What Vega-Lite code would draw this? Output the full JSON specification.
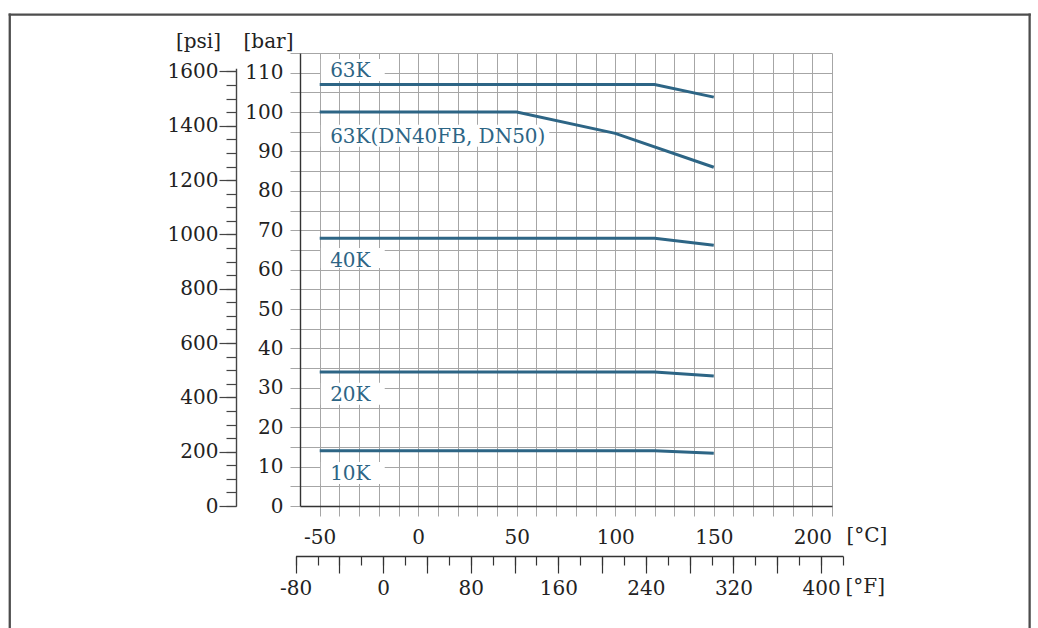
{
  "$schema": "https://vega.github.io/schema/vega-lite/v6.json",
  "autosize": {"type": "none"},
  "padding": {"left": 300, "top": 53, "right": 206, "bottom": 122},
  "width": 532,
  "height": 453,
  "background": "white",
  "config": {"view": {"stroke": null}, "font": "DejaVu Serif"},
  "datasets": {
    "curves": [
      {"series": "63K", "t": -50, "p": 107},
      {"series": "63K", "t": 120, "p": 107},
      {"series": "63K", "t": 150, "p": 103.8},
      {"series": "63K(DN40FB, DN50)", "t": -50, "p": 100},
      {"series": "63K(DN40FB, DN50)", "t": 50, "p": 100},
      {"series": "63K(DN40FB, DN50)", "t": 100, "p": 94.6},
      {"series": "63K(DN40FB, DN50)", "t": 150, "p": 86},
      {"series": "40K", "t": -50, "p": 68},
      {"series": "40K", "t": 120, "p": 68},
      {"series": "40K", "t": 150, "p": 66.2},
      {"series": "20K", "t": -50, "p": 34},
      {"series": "20K", "t": 120, "p": 34},
      {"series": "20K", "t": 150, "p": 33},
      {"series": "10K", "t": -50, "p": 14},
      {"series": "10K", "t": 120, "p": 14},
      {"series": "10K", "t": 150, "p": 13.4}
    ],
    "labels": [
      {"label": "63K", "t": -44.7, "p": 110.4, "t0": -49.4, "t1": -17, "p0": 107.9, "p1": 113.5},
      {"label": "63K(DN40FB, DN50)", "t": -44.7, "p": 93.65, "t0": -49.4, "t1": 66.5, "p0": 91.2, "p1": 96.8},
      {"label": "40K", "t": -44.7, "p": 62.3, "t0": -49.4, "t1": -17, "p0": 60.4, "p1": 65.5},
      {"label": "20K", "t": -44.7, "p": 28.2, "t0": -49.4, "t1": -17, "p0": 25.7, "p1": 31.3},
      {"label": "10K", "t": -44.7, "p": 8.05, "t0": -49.4, "t1": -17, "p0": 5.6, "p1": 11.2}
    ],
    "frame": [
      {"t": -207.3, "t2": -207.3, "p": -31, "p2": 124.75},
      {"t": -207.3, "t2": 310.3, "p": 124.75, "p2": 124.75},
      {"t": 310.3, "t2": 310.3, "p": -31, "p2": 124.75}
    ],
    "psi": [{"psi": 0}, {"psi": 1600}],
    "fahr": [{"f": -80}, {"f": 420}]
  },
  "resolve": {
    "scale": {"x": "independent", "y": "independent"},
    "axis": {"x": "independent", "y": "independent"}
  },
  "layer": [
    {
      "data": {"name": "frame"},
      "mark": {"type": "rule", "stroke": "#4d4d4d", "strokeWidth": 2.3, "strokeCap": "square"},
      "encoding": {
        "x": {"field": "t", "type": "quantitative", "scale": {"domain": [-60, 210], "nice": false, "zero": false}, "axis": null},
        "x2": {"field": "t2"},
        "y": {"field": "p", "type": "quantitative", "scale": {"domain": [0, 115], "nice": false, "zero": false}, "axis": null},
        "y2": {"field": "p2"}
      }
    },
    {
      "data": {"name": "labels"},
      "mark": {"type": "rect", "fill": "white"},
      "encoding": {
        "x": {"field": "t0", "type": "quantitative", "scale": {"domain": [-60, 210], "nice": false, "zero": false}, "axis": null},
        "x2": {"field": "t1"},
        "y": {"field": "p0", "type": "quantitative", "scale": {"domain": [0, 115], "nice": false, "zero": false}, "axis": null},
        "y2": {"field": "p1"}
      }
    },
    {
      "data": {"name": "curves"},
      "mark": {"type": "line", "stroke": "#2d6585", "strokeWidth": 3},
      "encoding": {
        "x": {
          "field": "t", "type": "quantitative",
          "scale": {"domain": [-60, 210], "nice": false, "zero": false},
          "axis": {
            "values": [-50, -40, -30, -20, -10, 0, 10, 20, 30, 40, 50, 60, 70, 80, 90, 100, 110, 120, 130, 140, 150, 160, 170, 180, 190, 200, 210],
            "grid": true, "gridColor": "#a6a6a6", "gridWidth": 1,
            "tickColor": "#a6a6a6", "tickSize": 10, "tickWidth": 1,
            "domainColor": "#333333", "domainWidth": 1.4,
            "labelExpr": "datum.value % 50 === 0 ? '' + datum.value : ''",
            "labelFont": "DejaVu Serif", "labelFontSize": 20, "labelColor": "#222222",
            "labelPadding": 11, "labelOverlap": false, "labelFlush": false,
            "title": "[°C]", "titleX": 546, "titleY": 29, "titleAlign": "left", "titleBaseline": "middle", "titleAngle": 0,
            "titleFont": "DejaVu Serif", "titleFontSize": 20, "titleFontWeight": "normal", "titleColor": "#222222"
          }
        },
        "y": {
          "field": "p", "type": "quantitative",
          "scale": {"domain": [0, 115], "nice": false, "zero": false},
          "axis": {
            "values": [0, 5, 10, 15, 20, 25, 30, 35, 40, 45, 50, 55, 60, 65, 70, 75, 80, 85, 90, 95, 100, 105, 110, 115],
            "grid": true, "gridColor": "#a6a6a6", "gridWidth": 1,
            "tickColor": "#a6a6a6", "tickSize": 10, "tickWidth": 1,
            "domainColor": "#333333", "domainWidth": 1.4,
            "labelExpr": "datum.value % 10 === 0 ? '' + datum.value : ''",
            "labelFont": "DejaVu Serif", "labelFontSize": 20, "labelColor": "#222222",
            "labelPadding": 7, "labelOverlap": false, "labelFlush": false,
            "title": "[bar]", "titleX": -32, "titleY": -12, "titleAlign": "center", "titleBaseline": "middle", "titleAngle": 0,
            "titleFont": "DejaVu Serif", "titleFontSize": 20, "titleFontWeight": "normal", "titleColor": "#222222"
          }
        },
        "detail": {"field": "series"}
      }
    },
    {
      "data": {"name": "labels"},
      "mark": {"type": "text", "align": "left", "baseline": "middle", "font": "DejaVu Serif", "fontSize": 20, "fill": "#2d6585"},
      "encoding": {
        "x": {"field": "t", "type": "quantitative", "scale": {"domain": [-60, 210], "nice": false, "zero": false}, "axis": null},
        "y": {"field": "p", "type": "quantitative", "scale": {"domain": [0, 115], "nice": false, "zero": false}, "axis": null},
        "text": {"field": "label"}
      }
    },
    {
      "data": {"name": "psi"},
      "mark": {"type": "point", "opacity": 0},
      "encoding": {
        "y": {
          "field": "psi", "type": "quantitative",
          "scale": {"domain": [0, 1612], "range": [453, 15.19], "nice": false, "zero": false},
          "axis": {
            "orient": "left", "offset": 64,
            "values": [0, 50, 100, 150, 200, 250, 300, 350, 400, 450, 500, 550, 600, 650, 700, 750, 800, 850, 900, 950, 1000, 1050, 1100, 1150, 1200, 1250, 1300, 1350, 1400, 1450, 1500, 1550, 1600],
            "labels": false, "grid": false,
            "tickColor": "#444444", "tickSize": 10, "tickWidth": 1.2,
            "domainColor": "#444444", "domainWidth": 1.4,
            "title": "[psi]", "titleX": -38, "titleY": -12, "titleAlign": "center", "titleBaseline": "middle", "titleAngle": 0,
            "titleFont": "DejaVu Serif", "titleFontSize": 20, "titleFontWeight": "normal", "titleColor": "#222222"
          }
        }
      }
    },
    {
      "data": {"name": "psi"},
      "mark": {"type": "point", "opacity": 0},
      "encoding": {
        "y": {
          "field": "psi", "type": "quantitative",
          "scale": {"domain": [0, 1612], "range": [453, 15.19], "nice": false, "zero": false},
          "axis": {
            "orient": "left", "offset": 64,
            "values": [0, 200, 400, 600, 800, 1000, 1200, 1400, 1600],
            "domain": false, "grid": false,
            "tickColor": "#444444", "tickSize": 17, "tickWidth": 1.2,
            "labelExpr": "'' + datum.value",
            "labelFont": "DejaVu Serif", "labelFontSize": 20, "labelColor": "#222222",
            "labelPadding": 1, "labelOverlap": false, "labelFlush": false,
            "title": null
          }
        }
      }
    },
    {
      "data": {"name": "fahr"},
      "mark": {"type": "point", "opacity": 0},
      "encoding": {
        "x": {
          "field": "f", "type": "quantitative",
          "scale": {"domain": [-80, 420], "range": [-4.38, 542.95], "nice": false, "zero": false},
          "axis": {
            "orient": "bottom", "offset": 50,
            "values": [-80, -60, -40, -20, 0, 20, 40, 60, 80, 100, 120, 140, 160, 180, 200, 220, 240, 260, 280, 300, 320, 340, 360, 380, 400, 420],
            "labels": false, "grid": false,
            "tickColor": "#333333", "tickSize": 9, "tickWidth": 1.2,
            "domainColor": "#333333", "domainWidth": 1.4,
            "title": "[°F]", "titleX": 545, "titleY": 30, "titleAlign": "left", "titleBaseline": "middle", "titleAngle": 0,
            "titleFont": "DejaVu Serif", "titleFontSize": 20, "titleFontWeight": "normal", "titleColor": "#222222"
          }
        }
      }
    },
    {
      "data": {"name": "fahr"},
      "mark": {"type": "point", "opacity": 0},
      "encoding": {
        "x": {
          "field": "f", "type": "quantitative",
          "scale": {"domain": [-80, 420], "range": [-4.38, 542.95], "nice": false, "zero": false},
          "axis": {
            "orient": "bottom", "offset": 50,
            "values": [-80, -40, 0, 40, 80, 120, 160, 200, 240, 280, 320, 360, 400],
            "domain": false, "grid": false,
            "tickColor": "#333333", "tickSize": 17, "tickWidth": 1.2,
            "labelExpr": "datum.value % 80 === 0 ? '' + datum.value : ''",
            "labelFont": "DejaVu Serif", "labelFontSize": 20, "labelColor": "#222222",
            "labelPadding": 5, "labelOverlap": false, "labelFlush": false,
            "title": null
          }
        }
      }
    }
  ]
}
